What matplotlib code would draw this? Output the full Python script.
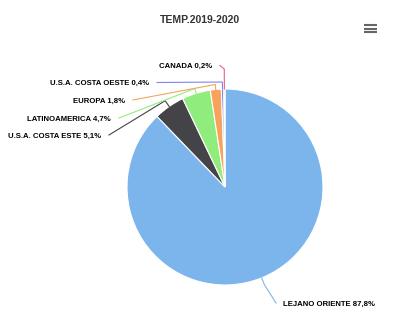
import numpy as np
import matplotlib
matplotlib.use('Agg')
import matplotlib.pyplot as plt

W, H = 400, 331

# slices, clockwise from 12 o'clock
labels = ['LEJANO ORIENTE', 'U.S.A. COSTA ESTE', 'LATINOAMERICA',
          'EUROPA', 'U.S.A. COSTA OESTE', 'CANADA']
shares = [87.8, 5.1, 4.7, 1.8, 0.4, 0.2]
colors = ['#7cb5ec', '#434348', '#90ed7d', '#f7a35c', '#8085e9', '#f15c80']
title = 'TEMP.2019-2020'

# label layout in pixels (x, y from the top), side the text sits on,
# and how far the connector bend sits outside the pie edge
label_pos = [(283, 304, 'left', 7),
             (101, 136, 'right', 7),
             (111, 119, 'right', 5),
             (125, 101, 'right', 5),
             (149, 83.5, 'right', 7),
             (212, 66.5, 'right', 20)]

cx, cy, R = 225, 187, 98

plt.rcParams['font.family'] = ['Liberation Sans', 'DejaVu Sans']


def py(y):
    return H - y


fig = plt.figure(figsize=(W / 100, H / 100), dpi=100)
ax = fig.add_axes([0, 0, 1, 1])

wedges, _ = ax.pie(shares, colors=colors, startangle=90, counterclock=False,
                   center=(cx, py(cy)), radius=R,
                   wedgeprops=dict(edgecolor='white', linewidth=0.8))

for w, name, val, col, (lx, ly, side, d) in zip(wedges, labels, shares,
                                                 colors, label_pos):
    mid = np.deg2rad((w.theta1 + w.theta2) / 2)
    ex = cx + R * np.cos(mid)
    ey = py(cy) + R * np.sin(mid)
    bx = cx + (R + d) * np.cos(mid)
    by = py(cy) + (R + d) * np.sin(mid)
    if side == 'right':
        sx = lx + 8
        ha = 'right'
    else:
        sx = lx - 7
        ha = 'left'
    sy = py(ly) + 1
    ax.plot([sx, bx, ex], [sy, by, ey], color=col, lw=0.8,
            solid_joinstyle='round')
    txt = '%s %s%%' % (name, ('%.1f' % val).replace('.', ','))
    ax.text(lx, py(ly), txt, ha=ha, va='center', fontsize=5.6,
            fontweight='bold', color='#000000')

ax.text(200, py(20), title, ha='center', va='center', fontsize=7.5,
        fontweight='bold', color='#333333')

# export menu icon
for yy in (25, 28.5, 32):
    ax.plot([364, 377], [py(yy), py(yy)], color='#666666', lw=1.5,
            solid_capstyle='butt')

ax.set_xlim(0, W)
ax.set_ylim(0, H)
ax.set_aspect('equal')
ax.axis('off')

fig.savefig('out.png', dpi=100)
